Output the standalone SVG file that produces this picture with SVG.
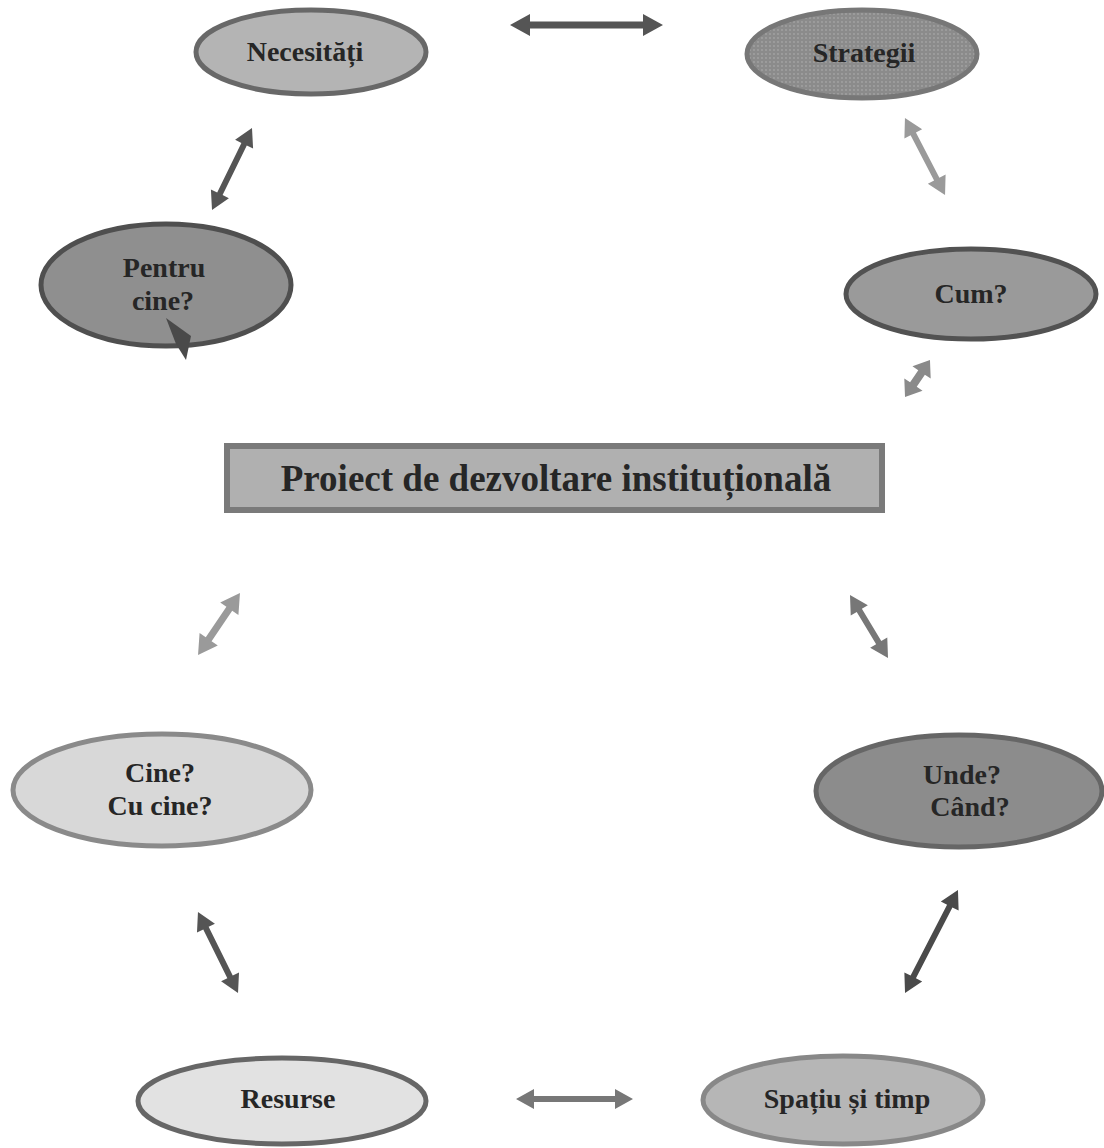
<svg xmlns="http://www.w3.org/2000/svg" width="1104" height="1148" viewBox="0 0 1104 1148">
<defs>
<pattern id="dots" width="4" height="4" patternUnits="userSpaceOnUse">
<rect width="4" height="4" fill="#8b8b8b"/>
<circle cx="2" cy="2" r="0.9" fill="#a3a3a3"/>
</pattern>
</defs>
<style>
.t{font-family:"Liberation Serif","Times New Roman",serif;font-weight:bold;font-size:28px;fill:#262626;text-anchor:middle}
.big{font-size:37px}
.n{stroke-width:5}
</style>
<rect width="1104" height="1148" fill="#ffffff"/>
<g id="connectors">
<g transform="translate(586.5,25) rotate(0)"><path fill="#555" d="M-76.5 0 L-56.5 -11 L-56.5 -3.5 L56.5 -3.5 L56.5 -11 L76.5 0 L56.5 11 L56.5 3.5 L-56.5 3.5 L-56.5 11 Z"/></g>
<g transform="translate(232,169) rotate(116)"><path fill="#555" d="M-45.6 0 L-27.6 -10 L-27.6 -3 L27.6 -3 L27.6 -10 L45.6 0 L27.6 10 L27.6 3 L-27.6 3 L-27.6 10 Z"/></g>
<g transform="translate(925,156.5) rotate(62.5)"><path fill="#9a9a9a" d="M-43.4 0 L-25.4 -10 L-25.4 -3 L25.4 -3 L25.4 -10 L43.4 0 L25.4 10 L25.4 3 L-25.4 3 L-25.4 10 Z"/></g>
<g transform="translate(917.5,378.5) rotate(124)"><path fill="#8a8a8a" d="M-22.3 0 L-7.3 -11 L-7.3 -4 L7.3 -4 L7.3 -11 L22.3 0 L7.3 11 L7.3 4 L-7.3 4 L-7.3 11 Z"/></g>
<g transform="translate(219,624) rotate(124.1)"><path fill="#9a9a9a" d="M-37.4 0 L-18.4 -11 L-18.4 -3.5 L18.4 -3.5 L18.4 -11 L37.4 0 L18.4 11 L18.4 3.5 L-18.4 3.5 L-18.4 11 Z"/></g>
<g transform="translate(869,626.5) rotate(58.9)"><path fill="#777" d="M-36.8 0 L-18.8 -10 L-18.8 -3 L18.8 -3 L18.8 -10 L36.8 0 L18.8 10 L18.8 3 L-18.8 3 L-18.8 10 Z"/></g>
<g transform="translate(218,952.5) rotate(63.7)"><path fill="#555" d="M-45.2 0 L-27.2 -10 L-27.2 -3 L27.2 -3 L27.2 -10 L45.2 0 L27.2 10 L27.2 3 L-27.2 3 L-27.2 10 Z"/></g>
<g transform="translate(931.5,941.5) rotate(117.2)"><path fill="#4a4a4a" d="M-57.9 0 L-39.9 -10 L-39.9 -3 L39.9 -3 L39.9 -10 L57.9 0 L39.9 10 L39.9 3 L-39.9 3 L-39.9 10 Z"/></g>
<g transform="translate(574.5,1099) rotate(0)"><path fill="#777" d="M-58.5 0 L-40.5 -10 L-40.5 -3 L40.5 -3 L40.5 -10 L58.5 0 L40.5 10 L40.5 3 L-40.5 3 L-40.5 10 Z"/></g>
</g>
<g id="necesitati">
<ellipse class="n" cx="311" cy="52" rx="115" ry="42" fill="#b4b4b4" stroke="#686868"/>
<text class="t" x="305" y="61">Necesități</text>
</g>
<g id="strategii">
<ellipse class="n" cx="862" cy="54" rx="115" ry="44" fill="url(#dots)" stroke="#777"/>
<text class="t" x="864" y="62">Strategii</text>
</g>
<g id="pentru-cine">
<ellipse class="n" cx="166" cy="285" rx="125" ry="61" fill="#8f8f8f" stroke="#4f4f4f"/>
<path fill="#4a4a4a" d="M166 318 L191 336 L186 360 L176 344 Z"/>
<text class="t" x="164" y="277">Pentru</text>
<text class="t" x="163" y="310">cine?</text>
</g>
<g id="cum">
<ellipse class="n" cx="971" cy="294" rx="125" ry="45" fill="#9a9a9a" stroke="#525252"/>
<text class="t" x="971" y="303">Cum?</text>
</g>
<g id="proiect">
<rect x="227" y="446" width="655" height="64" fill="#b0b0b0" stroke="#7a7a7a" stroke-width="6"/>
<text class="t big" x="556" y="491">Proiect de dezvoltare instituțională</text>
</g>
<g id="cine">
<ellipse class="n" cx="162" cy="790" rx="149" ry="56" fill="#d8d8d8" stroke="#8a8a8a"/>
<text class="t" x="160" y="782">Cine?</text>
<text class="t" x="160" y="815">Cu cine?</text>
</g>
<g id="unde">
<ellipse class="n" cx="959" cy="791" rx="143" ry="56" fill="#8c8c8c" stroke="#666"/>
<text class="t" x="962" y="784">Unde?</text>
<text class="t" x="970" y="816">Când?</text>
</g>
<g id="resurse">
<ellipse class="n" cx="282" cy="1101" rx="144" ry="43" fill="#e2e2e2" stroke="#666"/>
<text class="t" x="288" y="1108">Resurse</text>
</g>
<g id="spatiu">
<ellipse class="n" cx="843" cy="1100" rx="140" ry="44" fill="#b6b6b6" stroke="#888"/>
<text class="t" x="847" y="1108">Spațiu și timp</text>
</g>
</svg>
